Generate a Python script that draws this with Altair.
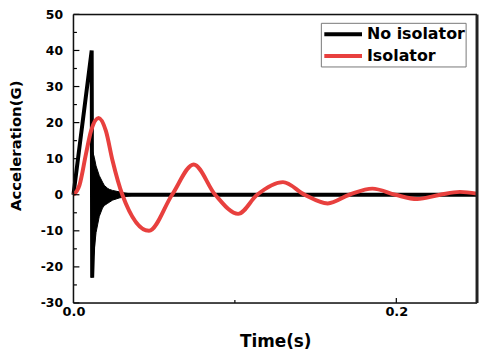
import altair as alt
import pandas as pd

# ---- data ----
series_names = ["No isolator", "Isolator"]
series_colors = ["#000000", "#E8403E"]

# No isolator: ramp up, sharp drop, then flat at zero
t_noiso = [0.0, 0.0113, 0.0116, 0.0132, 0.25]
a_noiso = [0.0, 40.0, -23.0, 0.0, 0.0]

# high-frequency ringing of the unisolated response (its envelope)
t_ring = [0.0114, 0.0119, 0.0129, 0.0140, 0.0160, 0.0180, 0.0191, 0.0211,
          0.0222, 0.0242, 0.0283, 0.0302, 0.0345, 0.0400]
ring_upper = [15.0, 12.0, 10.4, 8.0, 5.3, 3.5, 2.6, 1.8, 1.5, 1.2, 0.8, 0.6, 0.3, 0.0]
ring_lower = [-23.0, -19.0, -15.2, -10.5, -6.0, -3.7, -3.0, -2.4, -2.1, -1.5, -0.9, -0.7, -0.3, 0.0]

# Isolator: damped oscillation
t_iso = [0.0, 0.0037, 0.0078, 0.0109, 0.0156, 0.0201, 0.0242, 0.0303, 0.0468,
         0.0611, 0.0745, 0.0878, 0.1020, 0.1138, 0.1298, 0.1432, 0.1575, 0.1709,
         0.1852, 0.1994, 0.2129, 0.2271, 0.2394, 0.2500]
a_iso = [0.0, 2.6, 11.4, 17.7, 21.3, 17.7, 9.5, 0.0, -10.0,
         0.0, 8.4, 0.0, -5.3, 0.0, 3.5, 0.0, -2.4, 0.0,
         1.7, 0.0, -1.2, 0.0, 0.8, 0.3]

# axis ticks
x_labels = [0.0, 0.2]
x_major = [0.2]
x_minor = [0.1]
y_labels = [-30, -20, -10, 0, 10, 20, 30, 40, 50]
y_minor = [-25, -15, -5, 5, 15, 25, 35, 45]

# ---- chart ----
W, H = 407, 291
FONT = "DejaVu Sans"
MINUS_FIX = "replace(datum.label, '\u2212', '-')"

df_noiso = pd.DataFrame({"t": t_noiso, "a": a_noiso})
df_ring = pd.DataFrame({"t": t_ring, "up": ring_upper, "lo": ring_lower})
df_iso = pd.DataFrame({"t": t_iso, "a": a_iso})

xs = alt.Scale(domain=[0, 0.25], nice=False, zero=False)
ys = alt.Scale(domain=[-30, 50], nice=False, zero=False)

x_axis = alt.Axis(values=x_labels, format=".1f", title="Time(s)", grid=False,
                  ticks=False, tickSize=0, domain=False, labelPadding=3,
                  labelFlush=False, labelOverlap=False, labelBound=False,
                  labelFont=FONT, labelFontSize=13, labelFontWeight="bold", labelColor="black",
                  titleFont=FONT, titleFontSize=17, titleFontWeight="bold", titleColor="black",
                  titleX=W / 2, titleY=39, titleBaseline="middle", titleAlign="center")
y_axis = alt.Axis(values=y_labels, title="Acceleration(G)", grid=False,
                  ticks=False, tickSize=0, domain=False, labelPadding=11,
                  labelFlush=False, labelOverlap=False, labelBound=False,
                  labelExpr=MINUS_FIX,
                  labelFont=FONT, labelFontSize=12.5, labelFontWeight="bold", labelColor="black",
                  titleFont=FONT, titleFontSize=15, titleFontWeight="bold", titleColor="black",
                  titleX=-58, titleY=132, titleAngle=270, titleBaseline="middle", titleAlign="center")


def X(field):
    return alt.X(field, scale=xs, axis=x_axis, title="Time(s)")


def Y(field):
    return alt.Y(field, scale=ys, axis=y_axis, title="Acceleration(G)")


noiso_line = alt.Chart(df_noiso).mark_line(color=series_colors[0], strokeWidth=4).encode(
    x=X("t:Q"), y=Y("a:Q"))
ring = alt.Chart(df_ring).mark_area(color=series_colors[0], stroke=series_colors[0], strokeWidth=1).encode(
    x=X("t:Q"), y=Y("up:Q"), y2="lo:Q")
iso_line = alt.Chart(df_iso).mark_line(color=series_colors[1], strokeWidth=4,
                                       interpolate="monotone").encode(
    x=X("t:Q"), y=Y("a:Q"))

# inward ticks
yt_major = alt.Chart(pd.DataFrame({"v": y_labels})).mark_rule(color="black", strokeWidth=1.2).encode(
    y=Y("v:Q"), x=alt.value(0), x2=alt.value(6))
yt_minor = alt.Chart(pd.DataFrame({"v": y_minor})).mark_rule(color="black", strokeWidth=1.2).encode(
    y=Y("v:Q"), x=alt.value(0), x2=alt.value(3.5))
xt_major = alt.Chart(pd.DataFrame({"v": x_major})).mark_rule(color="black", strokeWidth=1.2).encode(
    x=X("v:Q"), y=alt.value(H), y2=alt.value(H - 5))
xt_minor = alt.Chart(pd.DataFrame({"v": x_minor})).mark_rule(color="black", strokeWidth=1.2).encode(
    x=X("v:Q"), y=alt.value(H), y2=alt.value(H - 3))

# frame
right_edge = alt.Chart().mark_rule(color="#222222", strokeWidth=3).encode(
    x=alt.value(W), y=alt.value(0), y2=alt.value(H))
top_edge = alt.Chart().mark_rule(color="#111111", strokeWidth=1.5).encode(
    x=alt.value(0), x2=alt.value(W), y=alt.value(0))
left_edge = alt.Chart().mark_rule(color="#111111", strokeWidth=1.5).encode(
    x=alt.value(0), y=alt.value(0), y2=alt.value(H))
bottom_edge = alt.Chart().mark_rule(color="#111111", strokeWidth=1.5).encode(
    x=alt.value(0), x2=alt.value(W), y=alt.value(H))

# legend
leg_box = alt.Chart().mark_rect(fill="white", stroke="#777777", strokeWidth=1).encode(
    x=alt.value(250), x2=alt.value(396), y=alt.value(9), y2=alt.value(53))
leg_l1 = alt.Chart().mark_rule(color=series_colors[0], strokeWidth=4).encode(
    x=alt.value(253), x2=alt.value(291), y=alt.value(20))
leg_l2 = alt.Chart().mark_rule(color=series_colors[1], strokeWidth=4).encode(
    x=alt.value(253), x2=alt.value(291), y=alt.value(42))
leg_t1 = alt.Chart().mark_text(font=FONT, fontSize=16, fontWeight="bold", align="left",
                               baseline="middle", color="black").encode(
    x=alt.value(296), y=alt.value(20), text=alt.value(series_names[0]))
leg_t2 = alt.Chart().mark_text(font=FONT, fontSize=16, fontWeight="bold", align="left",
                               baseline="middle", color="black").encode(
    x=alt.value(296), y=alt.value(42), text=alt.value(series_names[1]))

chart = alt.layer(
    noiso_line, ring, iso_line,
    yt_major, yt_minor, xt_major, xt_minor,
    top_edge, left_edge, bottom_edge, right_edge,
    leg_box, leg_l1, leg_l2, leg_t1, leg_t2,
).properties(
    width=W, height=H,
    autosize=alt.AutoSizeParams(type="none"),
    padding={"left": 66, "top": 5, "right": 3, "bottom": 47},
    background="white",
).configure_view(stroke=None).configure(font=FONT)

chart.save("out.html", embed_options={"renderer": "svg", "actions": False})
